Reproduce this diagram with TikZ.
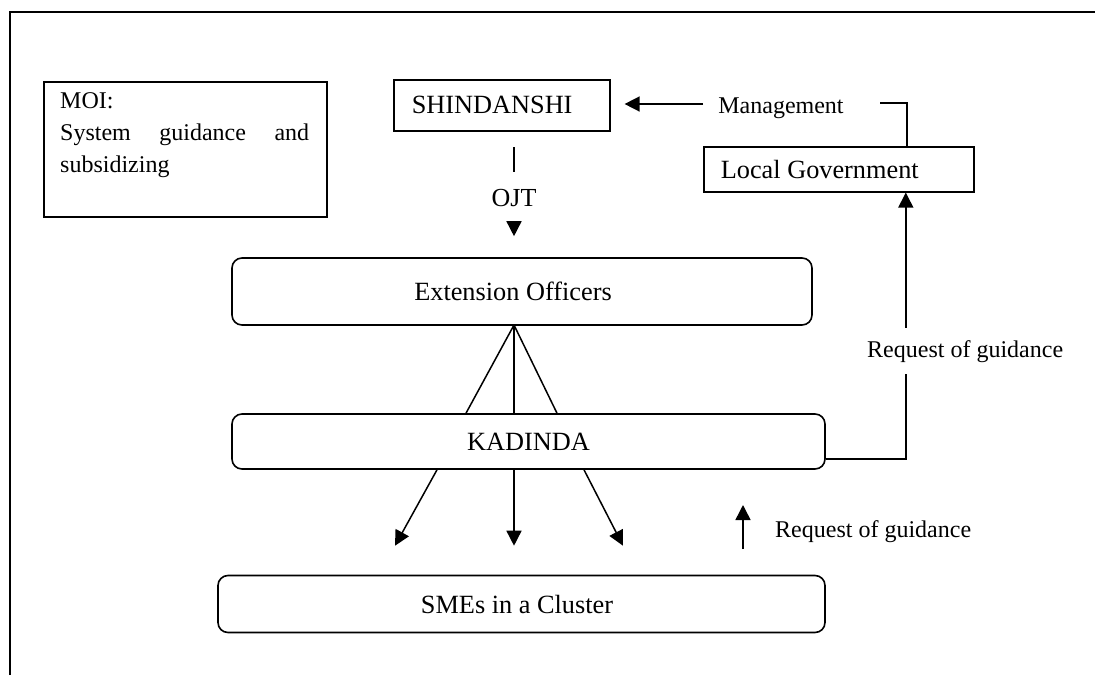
\documentclass[tikz,border=0pt]{standalone}
\usepackage{fontspec}
\setmainfont{Liberation Serif}
\usetikzlibrary{arrows.meta}
\newcommand\boxf{\fontsize{26.3}{31}\selectfont}
\newcommand\lblf{\fontsize{24}{32}\selectfont}
\newcommand\ojtf{\fontsize{26}{30}\selectfont}
\begin{document}
\begin{tikzpicture}[x=1pt,y=-1pt,
  sqbox/.style={draw, line width=1.6pt, inner sep=0pt, font=\boxf},
  rbox/.style={draw, line width=1.6pt, rounded corners=10pt, inner sep=0pt, font=\boxf},
  lbl/.style={inner sep=0pt, font=\lblf},
  conn/.style={line width=1.5pt},
  arr/.style={conn, -{Triangle[length=15pt,width=15pt]}}]
\useasboundingbox (0,0) rectangle (1095,675);
\draw[line width=2pt] (10,675) -- (10,12) -- (1095,12);

% MOI box
\node[sqbox, anchor=north west, minimum width=283pt, minimum height=135pt] (moi) at (43,81) {};
\node[lbl, anchor=north west, text width=249pt, align=left] (moitext) at (60,92)
  {MOI:\\\leavevmode\hbox to 249pt{System\hfill guidance\hfill and}\\subsidizing};

% boxes
\node[sqbox, anchor=north west, minimum width=216pt, minimum height=51pt, inner xsep=18pt] (shin) at (393,79)
  {\makebox[180pt][l]{SHINDANSHI}};
\node[sqbox, anchor=north west, minimum width=270pt, minimum height=45pt, inner xsep=17pt] (lg) at (703,146)
  {\makebox[236pt][l]{Local Government}};
\node[rbox, minimum width=580pt, minimum height=67pt] (ext) at (522,291.5) {\hspace*{-18pt}Extension Officers};
\node[rbox, minimum width=593pt, minimum height=55pt] (kad) at (528.5,441.5) {KADINDA};
\node[rbox, minimum width=607pt, minimum height=57pt] (sme) at (521.5,604) {\hspace*{-9pt}SMEs in a Cluster};

% Management
\node[lbl, anchor=base] (mgmt) at (781,113) {Management};
\coordinate (m1) at (703,104);
\draw[arr, shorten >=14pt] (m1) -- (m1 -| shin.east);
\coordinate (b1) at (880,103);
\draw[conn] (b1) -| ([xshift=68pt]lg.north);

% OJT
\coordinate (o1) at (514,147);
\coordinate (o2) at (514,172);
\draw[conn] (o1) -- (o2);
\node[inner sep=0pt, font=\ojtf, anchor=base] (ojt) at (514,206) {OJT};
\coordinate (o3) at (514,221);
\draw[arr, shorten >=21pt] (o3) -- (o3 |- ext.north);

% fan from Extension Officers to KADINDA
\coordinate (apex) at (514,325);
\draw[conn] (apex) -- ([xshift=-62.5pt]kad.north);
\draw[conn] (apex) -- ([xshift=-14.5pt]kad.north);
\draw[conn] (apex) -- ([xshift=28.5pt]kad.north);

% KADINDA to SMEs
\draw[arr] ([xshift=-91.5pt]kad.south) -- ([xshift=-126.5pt,yshift=29pt]sme.north);
\draw[arr] ([xshift=-14.5pt]kad.south) -- ([xshift=-7.5pt,yshift=29pt]sme.north);
\draw[arr] ([xshift=55.5pt]kad.south) -- ([xshift=101.5pt,yshift=29pt]sme.north);

% request from SMEs
\coordinate (u1) at (743,549);
\coordinate (u2) at (743,505);
\draw[arr] (u1) -- (u2);
\node[lbl, anchor=base west] (req2) at (775,537) {Request of guidance};

% request from KADINDA to Local Government
\draw[arr] ([yshift=-17.5pt]kad.east) -| ([xshift=67pt]lg.south);
\node[lbl, anchor=base west, fill=white, inner ysep=12pt] (req1) at (867,357) {Request of guidance};
\end{tikzpicture}
\end{document}
